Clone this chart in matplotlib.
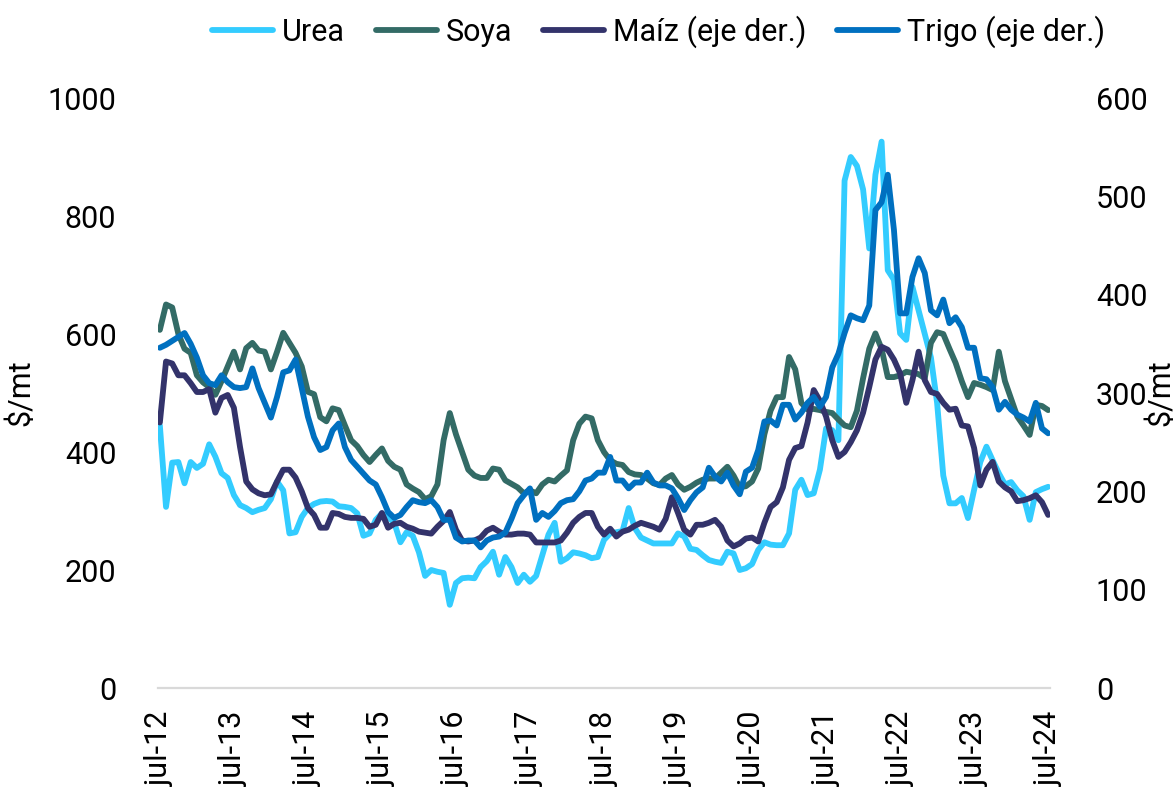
import matplotlib
matplotlib.use("Agg")
import matplotlib.pyplot as plt
import numpy as np

plt.rcParams["font.family"] = ["Roboto", "DejaVu Sans"]

# monthly prices, jul-12 .. jul-24 (US$/mt)
tick_labels = ["jul-12", "jul-13", "jul-14", "jul-15", "jul-16", "jul-17", "jul-18",
               "jul-19", "jul-20", "jul-21", "jul-22", "jul-23", "jul-24"]

urea = [445, 307, 382, 383, 347, 383, 373, 380, 413, 392,
        364, 356, 327, 310, 305, 298, 302, 305, 320, 350,
        335, 262, 264, 290, 305, 312, 316, 317, 316, 308,
        307, 305, 296, 258, 262, 285, 296, 290, 280, 247,
        264, 258, 230, 190, 200, 197, 195, 141, 178, 186,
        187, 186, 205, 215, 231, 192, 222, 205, 178, 192,
        180, 190, 225, 260, 280, 214, 220, 230, 228, 225,
        220, 222, 251, 262, 264, 266, 305, 271, 255, 250,
        245, 245, 245, 245, 262, 257, 236, 234, 225, 217,
        214, 212, 231, 228, 200, 203, 210, 234, 247, 243,
        242, 242, 262, 336, 353, 327, 330, 370, 440, 437,
        420, 860, 900, 885, 845, 745, 870, 926, 708, 692,
        601, 590, 680, 640, 600, 560, 483, 360, 313, 313,
        322, 288, 336, 383, 409, 386, 364, 345, 349, 335,
        325, 285, 332, 337, 341]

soya = [607, 650, 645, 600, 575, 568, 530, 518, 510, 497,
        520, 545, 570, 540, 576, 585, 572, 570, 540, 570,
        602, 585, 568, 545, 502, 498, 459, 452, 474, 471,
        445, 420, 410, 395, 383, 395, 406, 385, 375, 370,
        345, 338, 332, 320, 325, 345, 420, 466, 430, 400,
        370, 360, 356, 356, 372, 370, 352, 346, 340, 330,
        335, 330, 345, 353, 350, 360, 369, 420, 448, 460,
        457, 420, 400, 386, 380, 378, 366, 362, 361, 355,
        347, 344, 355, 361, 345, 336, 341, 348, 353, 355,
        355, 365, 375, 360, 340, 342, 350, 372, 430, 470,
        493, 493, 561, 540, 483, 472, 473, 471, 468, 466,
        455, 445, 442, 470, 525, 575, 601, 575, 527, 527,
        530, 536, 534, 532, 525, 585, 603, 600, 575, 551,
        520, 493, 517, 514, 510, 505, 570, 520, 490, 460,
        445, 429, 480, 478, 471]

maiz = [270, 332, 330, 318, 318, 310, 301, 301, 304, 280,
        295, 298, 285, 245, 210, 202, 198, 196, 197, 210,
        222, 222, 214, 200, 183, 176, 163, 163, 178, 177,
        174, 173, 173, 172, 164, 166, 178, 163, 167, 168,
        164, 162, 159, 158, 157, 164, 170, 179, 161, 150,
        149, 150, 153, 160, 163, 159, 156, 156, 157, 157,
        156, 148, 148, 148, 148, 150, 158, 168, 174, 178,
        178, 164, 156, 162, 154, 159, 161, 165, 168, 166,
        164, 161, 172, 194, 178, 161, 156, 166, 166, 168,
        171, 164, 150, 144, 147, 152, 153, 149, 168, 184,
        189, 204, 232, 244, 246, 270, 303, 292, 276, 252,
        235, 240, 250, 262, 280, 306, 334, 347, 344, 334,
        320, 290, 313, 342, 313, 301, 299, 290, 283, 284,
        267, 266, 244, 206, 222, 230, 210, 204, 200, 190,
        191, 193, 196, 189, 176]

trigo = [346, 349, 353, 357, 361, 350, 336, 318, 310, 308,
         318, 311, 306, 305, 306, 325, 305, 290, 275, 296,
         321, 323, 334, 305, 276, 255, 242, 245, 262, 269,
         245, 232, 225, 218, 211, 207, 194, 179, 173, 176,
         184, 191, 189, 188, 191, 184, 171, 171, 153, 149,
         150, 150, 143, 150, 153, 154, 158, 172, 188, 196,
         203, 171, 178, 174, 180, 188, 191, 192, 200, 211,
         213, 219, 219, 235, 211, 211, 203, 209, 209, 219,
         209, 206, 206, 203, 193, 181, 191, 199, 204, 224,
         215, 210, 219, 206, 197, 220, 224, 242, 271, 272,
         267, 288, 288, 273, 280, 290, 296, 286, 296, 326,
         340, 361, 379, 376, 374, 389, 486, 494, 522, 466,
         381, 381, 418, 437, 422, 384, 379, 395, 371, 377,
         367, 346, 346, 315, 314, 306, 283, 291, 283, 278,
         275, 271, 290, 264, 259]

C_UREA = "#33CCFF"; C_SOYA = "#336B66"; C_MAIZ = "#33336B"; C_TRIGO = "#0070C0"
FS = 22
x = np.arange(len(urea))

fig = plt.figure(figsize=(11.76, 7.97), dpi=100)
ax = fig.add_axes([158 / 1176, 109 / 797, 892 / 1176, 590 / 797])
ax2 = ax.twinx()

kw = dict(lw=4.2, solid_joinstyle="round", solid_capstyle="round")
l1, = ax.plot(x, urea, color=C_UREA, label="Urea", **kw)
l2, = ax.plot(x, soya, color=C_SOYA, label="Soya", **kw)
l3, = ax2.plot(x, maiz, color=C_MAIZ, label="Maíz (eje der.)", **kw)
l4, = ax2.plot(x, trigo, color=C_TRIGO, label="Trigo (eje der.)", **kw)

ax.set_xlim(-0.3, len(urea) - 0.7)
ax.set_ylim(0, 1000)
ax2.set_ylim(0, 600)
ax.set_yticks(range(0, 1001, 200))
ax2.set_yticks(range(0, 601, 100))
ax.set_xticks(x[::12])
ax.set_xticklabels(tick_labels, rotation=90)

for a in (ax, ax2):
    for s in ["top", "right", "left", "bottom"]:
        a.spines[s].set_visible(False)
ax.spines["bottom"].set_visible(True)
ax.spines["bottom"].set_color("#d9d9d9")
ax.spines["bottom"].set_linewidth(1.6)

ax.tick_params(axis="y", length=0, pad=30, labelsize=FS)
ax2.tick_params(axis="y", length=0, pad=33, labelsize=FS)
ax.tick_params(axis="x", length=0, pad=17, labelsize=FS)

ax.set_ylabel("\\$/mt", fontsize=FS)
ax.yaxis.set_label_coords(-0.138, 0.5)
ax2.set_ylabel("\\$/mt", fontsize=FS, rotation=90)
ax2.yaxis.set_label_coords(1.107, 0.5)

fig.legend([l1, l2, l3, l4], [l.get_label() for l in (l1, l2, l3, l4)],
           loc="upper center", bbox_to_anchor=(0.56, 1.015), ncol=4, frameon=False,
           fontsize=FS, handlelength=2.0, handletextpad=0.3, columnspacing=1.0)

fig.savefig("out.png", dpi=100)
